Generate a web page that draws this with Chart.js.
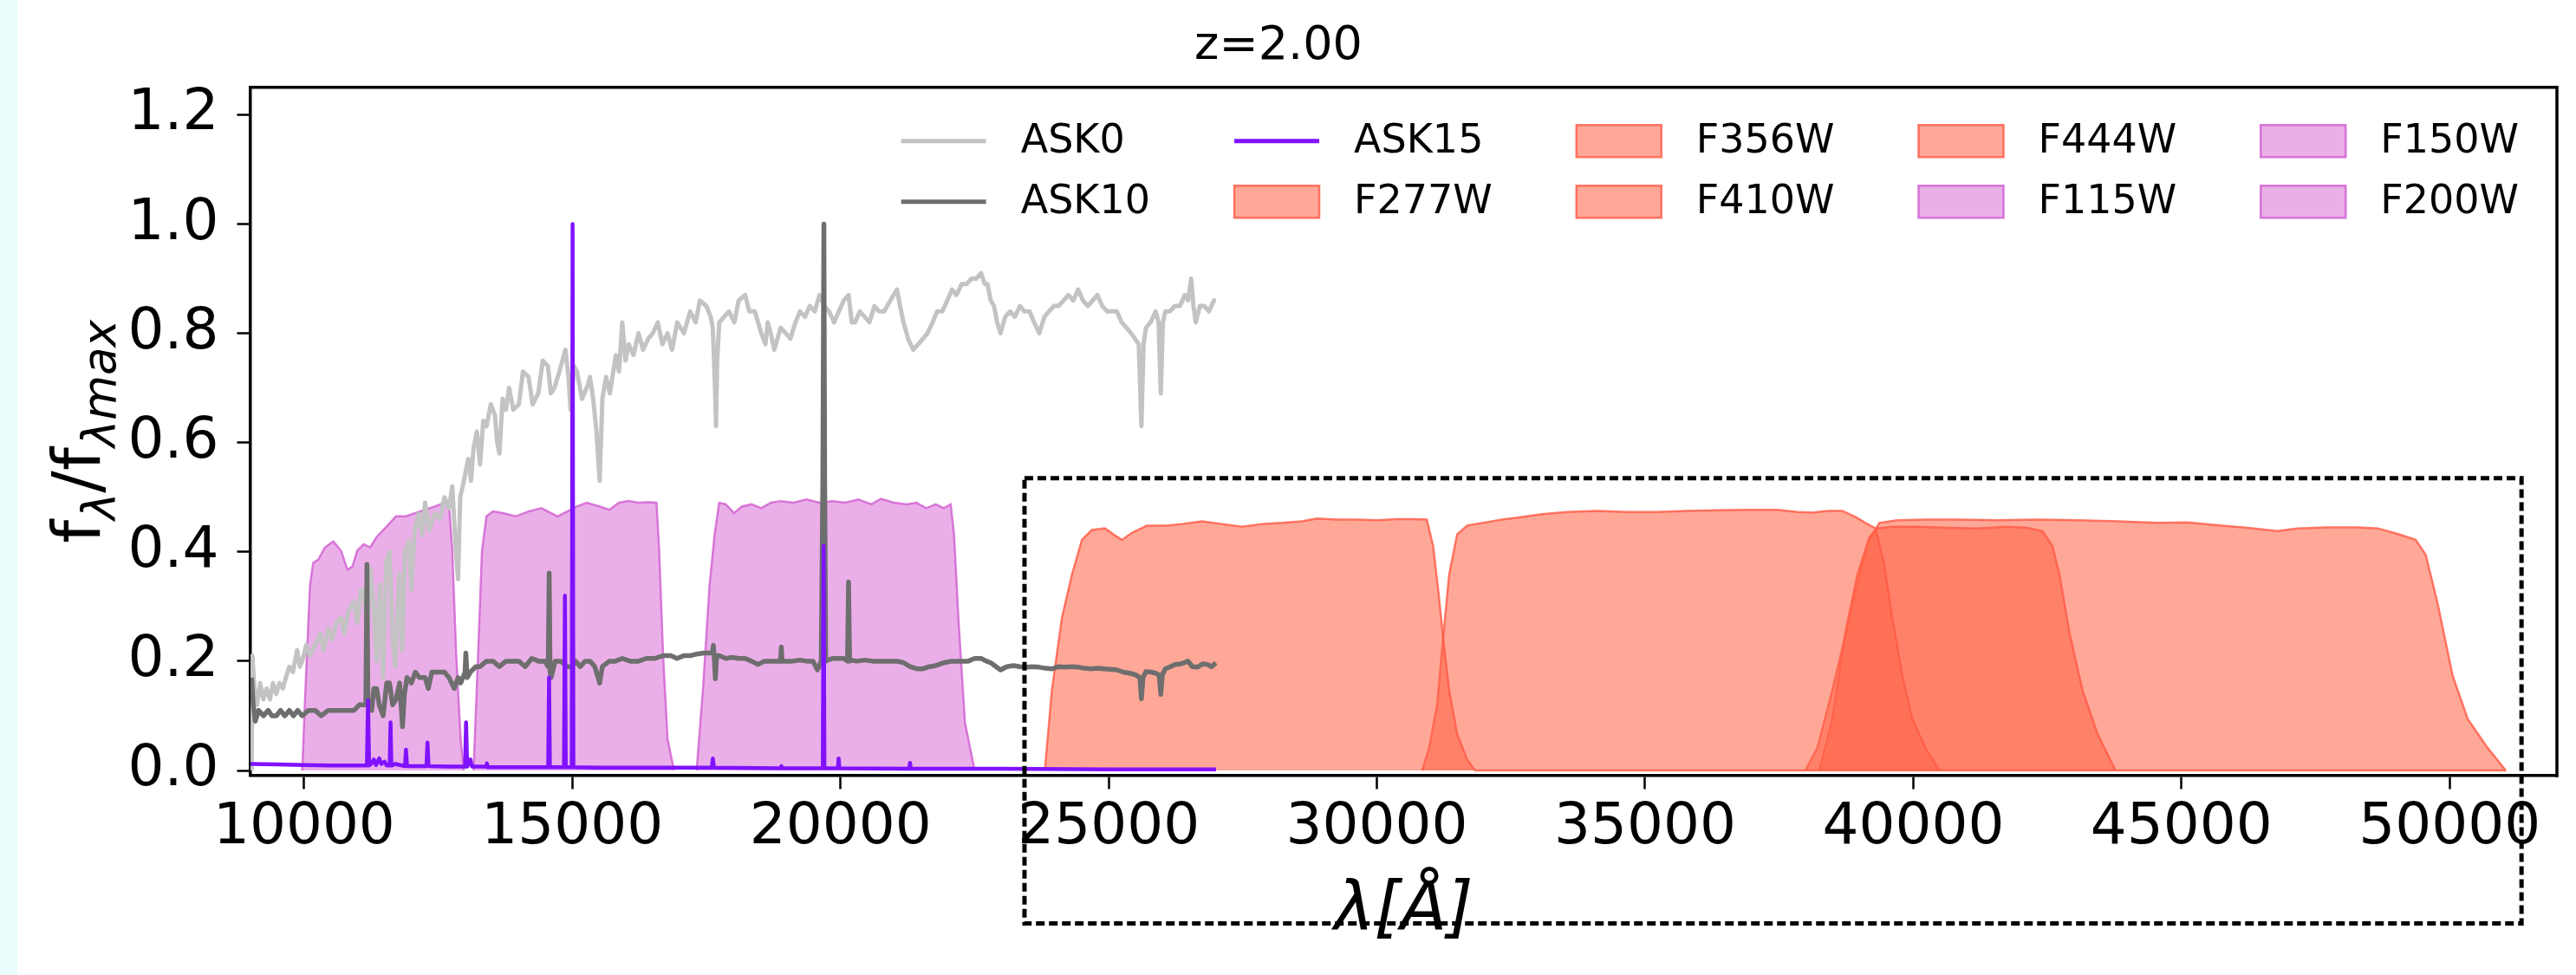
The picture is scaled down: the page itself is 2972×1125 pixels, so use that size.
<!DOCTYPE html>
<html>
<head>
<meta charset="utf-8">
<script src="https://cdn.jsdelivr.net/npm/chart.js@4.4.1/dist/chart.umd.min.js"></script>
<style>
  html, body { margin: 0; padding: 0; }
  body { background: linear-gradient(to right, #e9fbfb 0, #e9fbfb 20px, #ffffff 20px); }
  canvas { display: block; }
</style>
</head>
<body>
<canvas id="chart" width="2972" height="1125"></canvas>
<script>
// wavelength [A], normalised flux
const ask0 = [
  [9020,0.00],[9035,0.21],[9080,0.14],[9120,0.12],[9180,0.16],[9240,0.13],[9300,0.15],[9363,0.13],[9420,0.16],[9480,0.14],
  [9540,0.16],[9604,0.15],[9660,0.17],[9724,0.19],[9790,0.18],[9869,0.22],[9920,0.19],[9965,0.20],[10040,0.23],[10100,0.21],
  [10206,0.23],[10300,0.25],[10360,0.22],[10447,0.26],[10520,0.24],[10600,0.27],[10688,0.28],[10750,0.25],[10820,0.29],[10930,0.31],
  [10990,0.27],[11060,0.33],[11110,0.33],[11180,0.26],[11231,0.37],[11300,0.30],[11350,0.20],[11412,0.34],[11470,0.17],[11530,0.38],
  [11592,0.40],[11650,0.24],[11700,0.19],[11773,0.36],[11830,0.22],[11880,0.40],[11954,0.42],[12000,0.33],[12060,0.44],[12135,0.47],
  [12200,0.43],[12255,0.49],[12330,0.44],[12436,0.47],[12530,0.46],[12617,0.50],[12700,0.48],[12762,0.52],[12830,0.40],[12870,0.35],
  [12910,0.50],[12978,0.53],[13060,0.57],[13110,0.53],[13159,0.59],[13220,0.62],[13280,0.56],[13340,0.64],[13400,0.63],[13480,0.67],
  [13557,0.65],[13600,0.60],[13641,0.58],[13700,0.68],[13760,0.66],[13822,0.70],[13900,0.66],[14003,0.67],[14080,0.73],[14184,0.72],
  [14260,0.67],[14365,0.69],[14450,0.75],[14545,0.74],[14600,0.69],[14666,0.70],[14760,0.73],[14871,0.77],[14930,0.72],[14967,0.66],
  [15030,0.74],[15088,0.73],[15180,0.68],[15269,0.70],[15330,0.72],[15389,0.68],[15450,0.62],[15510,0.53],[15560,0.68],[15630,0.72],
  [15700,0.69],[15811,0.76],[15870,0.73],[15931,0.82],[15990,0.75],[16052,0.78],[16140,0.76],[16233,0.80],[16320,0.77],[16414,0.79],
  [16500,0.80],[16594,0.82],[16680,0.78],[16775,0.80],[16860,0.77],[16956,0.82],[17080,0.80],[17197,0.84],[17300,0.82],[17378,0.86],
  [17498,0.85],[17580,0.83],[17619,0.81],[17660,0.70],[17679,0.63],[17700,0.75],[17739,0.82],[17830,0.83],[17920,0.84],[18020,0.82],
  [18101,0.86],[18222,0.87],[18300,0.84],[18402,0.84],[18523,0.80],[18600,0.78],[18643,0.82],[18700,0.80],[18764,0.77],[18884,0.81],
  [18980,0.80],[19065,0.79],[19160,0.82],[19246,0.84],[19340,0.83],[19427,0.85],[19520,0.84],[19608,0.87],[19700,0.85],[19788,0.84],
  [19880,0.82],[19969,0.84],[20060,0.86],[20150,0.87],[20210,0.82],[20270,0.82],[20360,0.84],[20451,0.83],[20540,0.82],[20632,0.85],
  [20720,0.84],[20813,0.84],[20930,0.86],[21054,0.88],[21110,0.85],[21174,0.82],[21260,0.79],[21355,0.77],[21450,0.78],[21536,0.79],
  [21620,0.80],[21717,0.82],[21800,0.84],[21898,0.84],[21990,0.86],[22079,0.88],[22160,0.87],[22259,0.89],[22350,0.89],[22440,0.90],
  [22530,0.90],[22621,0.91],[22690,0.89],[22741,0.89],[22800,0.86],[22862,0.85],[22920,0.82],[22983,0.80],[23070,0.83],[23163,0.84],
  [23250,0.83],[23344,0.85],[23430,0.84],[23525,0.84],[23610,0.82],[23706,0.80],[23800,0.83],[23887,0.84],[23980,0.85],[24067,0.85],
  [24160,0.86],[24248,0.87],[24340,0.86],[24429,0.88],[24520,0.86],[24610,0.85],[24700,0.86],[24790,0.87],[24880,0.85],[24971,0.84],
  [25060,0.84],[25152,0.84],[25240,0.82],[25332,0.81],[25420,0.80],[25489,0.79],[25560,0.78],[25610,0.63],[25650,0.78],[25694,0.81],
  [25780,0.82],[25875,0.84],[25930,0.82],[25971,0.69],[26010,0.82],[26056,0.84],[26140,0.84],[26237,0.85],[26330,0.85],[26418,0.87],
  [26480,0.86],[26538,0.90],[26580,0.85],[26622,0.82],[26700,0.85],[26779,0.85],[26870,0.84],[26960,0.86],[27000,0.86]
];

const ask10 = [
  [9020,0.17],[9050,0.12],[9090,0.09],[9150,0.11],[9242,0.10],[9330,0.11],[9400,0.10],[9483,0.10],[9560,0.11],[9640,0.10],
  [9724,0.11],[9800,0.10],[9880,0.11],[9965,0.10],[10080,0.11],[10206,0.11],[10320,0.10],[10447,0.11],[10560,0.11],[10688,0.11],
  [10800,0.11],[10930,0.11],[11030,0.12],[11110,0.12],[11150,0.12],[11171,0.377],[11190,0.12],[11260,0.11],[11300,0.15],[11351,0.15],
  [11400,0.12],[11472,0.10],[11540,0.16],[11592,0.16],[11650,0.12],[11713,0.13],[11780,0.16],[11834,0.08],[11870,0.14],[11918,0.17],
  [12000,0.16],[12074,0.18],[12150,0.17],[12255,0.17],[12315,0.15],[12380,0.18],[12436,0.18],[12530,0.18],[12617,0.18],[12700,0.17],
  [12798,0.15],[12870,0.17],[12918,0.16],[13000,0.18],[13015,0.215],[13040,0.17],[13099,0.18],[13200,0.19],[13280,0.19],[13400,0.20],
  [13521,0.20],[13640,0.19],[13762,0.20],[13880,0.20],[14003,0.20],[14120,0.19],[14244,0.205],[14370,0.20],[14485,0.20],[14550,0.19],
  [14569,0.361],[14585,0.18],[14605,0.17],[14680,0.20],[14786,0.20],[14900,0.19],[14991,0.19],[15060,0.20],[15148,0.19],[15240,0.20],
  [15329,0.20],[15420,0.19],[15480,0.17],[15510,0.16],[15560,0.19],[15690,0.20],[15800,0.20],[15931,0.205],[16080,0.20],[16233,0.20],
  [16380,0.205],[16534,0.205],[16690,0.21],[16836,0.21],[16950,0.205],[17076,0.21],[17200,0.21],[17317,0.213],[17450,0.215],[17558,0.215],
  [17610,0.215],[17631,0.229],[17650,0.20],[17667,0.168],[17690,0.21],[17739,0.21],[17860,0.205],[17980,0.207],[18100,0.205],[18222,0.205],
  [18340,0.20],[18463,0.194],[18580,0.20],[18704,0.20],[18800,0.20],[18880,0.20],[18896,0.226],[18912,0.20],[18945,0.20],[19100,0.20],
  [19246,0.202],[19370,0.20],[19487,0.20],[19571,0.184],[19640,0.20],[19670,0.53],[19690,1.0],[19705,0.53],[19725,0.20],[19764,0.202],
  [19860,0.205],[19969,0.205],[20060,0.205],[20130,0.20],[20150,0.345],[20170,0.20],[20186,0.202],[20300,0.20],[20451,0.202],[20600,0.20],
  [20753,0.20],[20900,0.20],[21054,0.20],[21180,0.197],[21295,0.19],[21420,0.186],[21536,0.186],[21660,0.19],[21777,0.192],[21920,0.197],
  [22079,0.20],[22230,0.20],[22380,0.20],[22500,0.205],[22621,0.205],[22720,0.20],[22802,0.197],[22900,0.19],[22983,0.184],[23100,0.19],
  [23224,0.192],[23340,0.19],[23464,0.189],[23580,0.19],[23706,0.189],[23820,0.187],[23947,0.186],[24060,0.19],[24188,0.189],[24300,0.19],
  [24429,0.189],[24550,0.187],[24670,0.186],[24790,0.187],[24911,0.186],[25030,0.185],[25152,0.184],[25270,0.18],[25393,0.178],[25500,0.175],
  [25580,0.17],[25610,0.131],[25640,0.17],[25694,0.181],[25790,0.18],[25875,0.178],[25940,0.175],[25971,0.139],[26000,0.175],[26056,0.186],
  [26150,0.19],[26237,0.194],[26350,0.195],[26478,0.20],[26560,0.19],[26659,0.189],[26750,0.195],[26840,0.194],[26920,0.19],[26997,0.197]
];

const ask15 = [
  [9000,0.012],[9500,0.011],[10000,0.010],[10500,0.009],[11000,0.009],[11170,0.009],[11191,0.128],[11212,0.009],[11250,0.012],[11300,0.02],
  [11340,0.01],[11400,0.022],[11440,0.012],[11500,0.016],[11540,0.009],[11595,0.009],[11611,0.088],[11627,0.009],[11700,0.012],[11880,0.008],
  [11899,0.038],[11918,0.008],[12280,0.008],[12300,0.051],[12320,0.008],[12700,0.007],[13000,0.007],[13019,0.088],[13040,0.007],[13100,0.02],
  [13130,0.007],[13400,0.007],[13407,0.013],[13420,0.006],[14550,0.006],[14566,0.17],[14582,0.006],[14845,0.006],[14862,0.32],[14878,0.006],
  [14990,0.006],[15005,1.0],[15020,0.006],[15500,0.005],[16500,0.005],[17600,0.005],[17620,0.022],[17640,0.005],[18880,0.004],[18896,0.008],
  [18912,0.004],[19670,0.004],[19685,0.411],[19700,0.004],[19950,0.004],[19965,0.022],[19980,0.004],[21280,0.003],[21295,0.014],[21310,0.003],
  [22000,0.003],[23000,0.003],[25000,0.002],[27000,0.002]
];

// filter transmission curves (scaled as in the figure)
const f115w = [
  [9965,0],[10026,0.151],[10110,0.339],[10170,0.380],[10267,0.386],[10387,0.408],[10544,0.419],[10688,0.402],[10809,0.367],[10905,0.374],
  [10990,0.402],[11110,0.414],[11231,0.408],[11351,0.427],[11532,0.446],[11713,0.465],[11894,0.465],[12074,0.471],[12255,0.477],[12436,0.483],
  [12617,0.490],[12701,0.487],[12762,0.402],[12834,0.213],[12918,0.057],[12978,0]
];
const f150w = [
  [13159,0],[13244,0.213],[13316,0.402],[13400,0.465],[13521,0.474],[13702,0.471],[13943,0.465],[14184,0.474],[14424,0.480],[14605,0.471],
  [14726,0.465],[14907,0.474],[15088,0.483],[15269,0.490],[15510,0.483],[15690,0.477],[15871,0.490],[16052,0.493],[16233,0.490],[16414,0.491],
  [16570,0.490],[16619,0.402],[16691,0.213],[16775,0.057],[16896,0]
];
const f200w = [
  [17318,0],[17438,0.151],[17559,0.339],[17655,0.433],[17739,0.490],[17860,0.487],[18017,0.471],[18161,0.483],[18342,0.487],[18523,0.480],
  [18704,0.490],[18884,0.493],[19125,0.490],[19366,0.496],[19608,0.490],[19848,0.493],[20090,0.490],[20331,0.496],[20572,0.487],[20753,0.497],
  [20994,0.490],[21235,0.487],[21416,0.490],[21596,0.480],[21777,0.487],[21922,0.480],[22054,0.487],[22115,0.433],[22199,0.276],[22319,0.088],
  [22500,0]
];
const f277w = [
  [23810,0],[23941,0.147],[24128,0.279],[24314,0.358],[24501,0.422],[24687,0.440],[24930,0.443],[25116,0.430],[25247,0.422],[25433,0.435],
  [25713,0.448],[26086,0.448],[26366,0.451],[26739,0.456],[27112,0.451],[27485,0.446],[27858,0.451],[28232,0.453],[28605,0.456],[28884,0.461],
  [29258,0.459],[29631,0.459],[30004,0.458],[30377,0.460],[30657,0.460],[30930,0.459],[31048,0.411],[31141,0.332],[31235,0.242],[31347,0.147],
  [31496,0.067],[31682,0.020],[31832,0],[51050,0]
];
const f356w = [
  [30843,0],[30973,0.041],[31123,0.120],[31235,0.242],[31347,0.358],[31496,0.432],[31683,0.448],[31962,0.453],[32335,0.459],[32708,0.464],
  [33082,0.469],[33548,0.473],[34107,0.475],[34667,0.473],[35227,0.473],[35786,0.475],[36346,0.476],[36905,0.477],[37465,0.477],[37838,0.473],
  [38118,0.472],[38398,0.475],[38678,0.475],[38920,0.464],[39107,0.453],[39293,0.443],[39442,0.385],[39610,0.279],[39797,0.173],[39984,0.094],
  [40227,0.041],[40488,0]
];
const f410w = [
  [38248,0],[38491,0.094],[38733,0.252],[38957,0.358],[39181,0.427],[39330,0.443],[39610,0.446],[40076,0.446],[40636,0.444],[41195,0.443],
  [41755,0.446],[42128,0.444],[42408,0.438],[42595,0.411],[42726,0.358],[42912,0.252],[43155,0.147],[43435,0.067],[43771,0]
];
const f444w = [
  [37987,0],[38211,0.041],[38491,0.147],[38771,0.263],[38995,0.358],[39181,0.422],[39367,0.453],[39703,0.458],[40262,0.459],[40822,0.459],
  [41568,0.458],[42315,0.459],[43061,0.458],[43807,0.456],[44553,0.453],[45113,0.454],[45672,0.449],[46232,0.444],[46791,0.438],[47164,0.443],
  [47724,0.445],[48284,0.445],[48657,0.443],[49030,0.433],[49366,0.422],[49553,0.395],[49777,0.305],[50057,0.173],[50337,0.094],[50710,0.041],
  [51046,0]
];

const xTicks = [10000, 15000, 20000, 25000, 30000, 35000, 40000, 45000, 50000];
const yTicks = [0.0, 0.2, 0.4, 0.6, 0.8, 1.0, 1.2];
const legendOrder = ['ASK0', 'ASK10', 'ASK15', 'F277W', 'F356W', 'F410W', 'F444W', 'F115W', 'F150W', 'F200W'];
// zoom box drawn on the figure: [x0, x1], [y0, y1] in data units
const boxX = [23430, 51340];
const boxY = [-0.28, 0.535];

const NIR_FACE = 'rgba(218,112,214,0.56)';
const NIR_EDGE = 'rgba(210,100,210,0.85)';
const RED_FACE = 'rgba(255,99,71,0.56)';
const RED_EDGE = 'rgba(255,90,70,0.8)';

Chart.defaults.font.family = "'DejaVu Sans', sans-serif";
Chart.defaults.color = '#000';

const toXY = arr => arr.map(p => ({ x: p[0], y: p[1] }));

function lineSet(label, data, color, width, order) {
  return {
    label, data: toXY(data), borderColor: color, backgroundColor: color,
    borderWidth: width, pointRadius: 0, fill: false, tension: 0,
    borderJoinStyle: 'round', order
  };
}
function filterSet(label, data, face, edge, order) {
  return {
    label, data: toXY(data), borderColor: edge, backgroundColor: face,
    borderWidth: 2.5, pointRadius: 0, fill: 'origin', tension: 0, order
  };
}

// matplotlib-like legend inside the axes, 5 columns filled column by column
const legendPlugin = {
  id: 'mplLegend',
  afterDraw(chart) {
    const { ctx, chartArea: area } = chart;
    const sets = chart.data.datasets;
    const rows = 2, cols = Math.ceil(legendOrder.length / rows);
    const handleLen = 98, textPad = 40, colGap = 97;
    ctx.save();
    ctx.font = "46px 'DejaVu Sans'";
    const colW = [];
    for (let c = 0; c < cols; c++) {
      let w = 0;
      for (let r = 0; r < rows; r++) {
        const name = legendOrder[c * rows + r];
        if (name) w = Math.max(w, ctx.measureText(name).width);
      }
      colW.push(w);
    }
    const total = colW.reduce((s, w) => s + handleLen + textPad + w, 0) + colGap * (cols - 1);
    let x = area.right - 44 - total;
    const rowY = [area.top + 62, area.top + 132];
    ctx.textBaseline = 'middle';
    ctx.textAlign = 'left';
    for (let c = 0; c < cols; c++) {
      for (let r = 0; r < rows; r++) {
        const name = legendOrder[c * rows + r];
        if (!name) continue;
        const ds = sets.find(d => d.label === name);
        const y = rowY[r];
        if (ds.fill) {
          ctx.fillStyle = ds.backgroundColor;
          ctx.fillRect(x, y - 18.5, handleLen, 37);
          ctx.strokeStyle = ds.borderColor;
          ctx.lineWidth = 2.5;
          ctx.strokeRect(x, y - 18.5, handleLen, 37);
        } else {
          ctx.strokeStyle = ds.borderColor;
          ctx.lineWidth = 5;
          ctx.beginPath();
          ctx.moveTo(x, y);
          ctx.lineTo(x + handleLen, y);
          ctx.stroke();
        }
        ctx.fillStyle = '#000';
        ctx.fillText(name, x + handleLen + textPad, y + 1);
      }
      x += handleLen + textPad + colW[c] + colGap;
    }
    ctx.restore();
  }
};

// top/right spines, dashed zoom box and the y label with subscripts
const framePlugin = {
  id: 'frame',
  afterDraw(chart) {
    const { ctx, chartArea: a, scales } = chart;
    ctx.save();
    ctx.strokeStyle = '#000';
    ctx.lineWidth = 3.5;
    ctx.beginPath();
    ctx.moveTo(a.left - 1.75, a.top);
    ctx.lineTo(a.right, a.top);
    ctx.lineTo(a.right, a.bottom + 1.75);
    ctx.stroke();

    const x0 = scales.x.getPixelForValue(boxX[0]);
    const x1 = scales.x.getPixelForValue(boxX[1]);
    const y0 = scales.y.getPixelForValue(boxY[0]);
    const y1 = scales.y.getPixelForValue(boxY[1]);
    ctx.lineWidth = 5;
    ctx.setLineDash([10, 5]);
    ctx.strokeRect(x0, y1, x1 - x0, y0 - y1);
    ctx.setLineDash([]);

    // f_lambda / f_lambda max
    const S = 76;
    const parts = [
      { t: 'f', size: S, style: '', dy: 0 },
      { t: 'λ', size: S * 0.7, style: 'italic ', dy: S * 0.24 },
      { t: '/f', size: S, style: '', dy: 0 },
      { t: 'λmax', size: S * 0.7, style: 'italic ', dy: S * 0.24 }
    ];
    let total = 0;
    parts.forEach(p => {
      ctx.font = p.style + p.size + "px 'DejaVu Sans'";
      p.w = ctx.measureText(p.t).width;
      total += p.w;
    });
    ctx.translate(115, (a.top + a.bottom) / 2);
    ctx.rotate(-Math.PI / 2);
    ctx.fillStyle = '#000';
    ctx.textBaseline = 'alphabetic';
    ctx.textAlign = 'left';
    let cx = -total / 2;
    parts.forEach(p => {
      ctx.font = p.style + p.size + "px 'DejaVu Sans'";
      ctx.fillText(p.t, cx, p.dy);
      cx += p.w;
    });
    ctx.restore();
  }
};

const ctx = document.getElementById('chart').getContext('2d');
const chart = new Chart(ctx, {
  type: 'line',
  data: {
    datasets: [
      lineSet('ASK0', ask0, '#c3c3c3', 5, 2),
      lineSet('ASK10', ask10, '#6e6e6e', 5.5, 1),
      lineSet('ASK15', ask15, '#8012ff', 4.5, 0),
      filterSet('F277W', f277w, RED_FACE, RED_EDGE, 3),
      filterSet('F356W', f356w, RED_FACE, RED_EDGE, 4),
      filterSet('F410W', f410w, RED_FACE, RED_EDGE, 5),
      filterSet('F444W', f444w, RED_FACE, RED_EDGE, 6),
      filterSet('F115W', f115w, NIR_FACE, NIR_EDGE, 7),
      filterSet('F150W', f150w, NIR_FACE, NIR_EDGE, 8),
      filterSet('F200W', f200w, NIR_FACE, NIR_EDGE, 9)
    ]
  },
  options: {
    responsive: false,
    animation: false,
    devicePixelRatio: 1,
    layout: { padding: { left: 0, right: 22, top: 0, bottom: 0 } },
    plugins: {
      legend: { display: false },
      tooltip: { enabled: false },
      title: {
        display: true,
        text: 'z=2.00',
        color: '#000',
        font: { size: 54, weight: 'normal' },
        padding: { top: 22, bottom: 14 }
      }
    },
    scales: {
      x: {
        type: 'linear',
        min: 9000,
        max: 52000,
        afterFit: s => { s.height = 230; },
        afterBuildTicks: s => { s.ticks = xTicks.map(v => ({ value: v })); },
        grid: { drawOnChartArea: false, drawTicks: true, tickLength: 15.5, tickWidth: 2.5, tickColor: '#000' },
        border: { display: true, color: '#000', width: 3.5 },
        ticks: { font: { size: 66 }, color: '#000', padding: 6, maxRotation: 0, autoSkip: false, callback: v => String(v) },
        title: { display: true, text: 'λ[Å]', color: '#000', font: { size: 78, style: 'italic' }, padding: { top: 0, bottom: 25 } }
      },
      y: {
        min: -0.0095,
        max: 1.25,
        afterFit: s => { s.width = 289; },
        afterBuildTicks: s => { s.ticks = yTicks.map(v => ({ value: v })); },
        grid: { drawOnChartArea: false, drawTicks: true, tickLength: 15.5, tickWidth: 2.5, tickColor: '#000' },
        border: { display: true, color: '#000', width: 3.5 },
        ticks: { font: { size: 66 }, color: '#000', padding: 21, callback: v => v.toFixed(1) }
      }
    }
  },
  plugins: [legendPlugin, framePlugin]
});
</script>
</body>
</html>
